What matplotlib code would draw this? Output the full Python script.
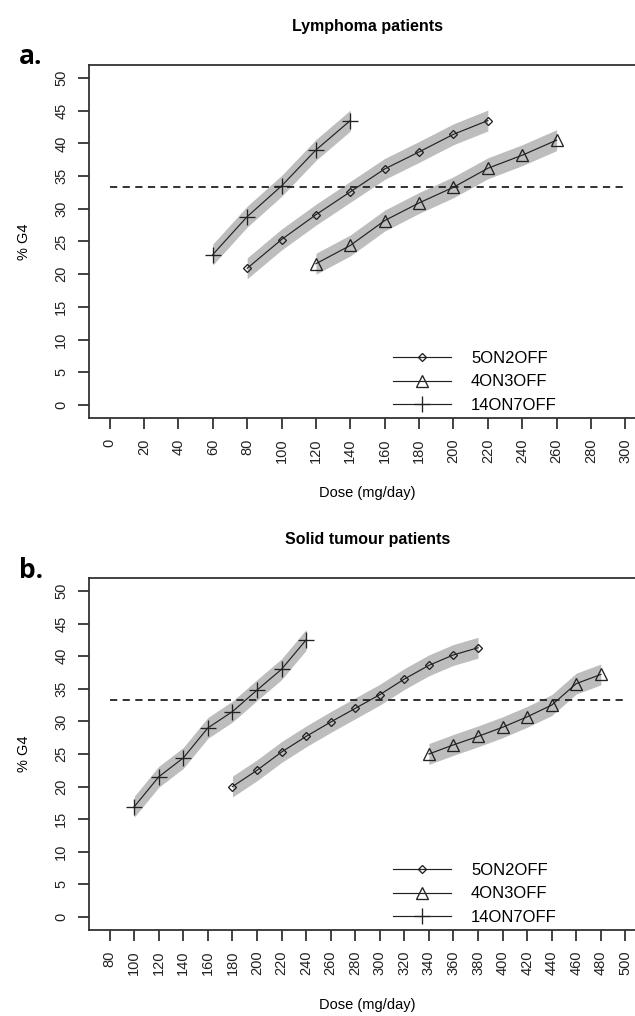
import matplotlib
matplotlib.use("Agg")
import matplotlib.pyplot as plt
import numpy as np

plt.rcParams['font.family'] = ['Liberation Sans', 'DejaVu Sans']

# ---- Data: Lymphoma patients ----
a_x_14on7off = [60, 80, 100, 120, 140]
a_y_14on7off = [23.0, 28.8, 33.5, 39.0, 43.5]
a_x_5on2off = [80, 100, 120, 140, 160, 180, 200, 220]
a_y_5on2off = [20.9, 25.3, 29.1, 32.6, 36.1, 38.7, 41.4, 43.5]
a_x_4on3off = [120, 140, 160, 180, 200, 220, 240, 260]
a_y_4on3off = [21.6, 24.4, 28.2, 30.9, 33.3, 36.2, 38.2, 40.5]
a_xticks = list(range(0, 301, 20))

# ---- Data: Solid tumour patients ----
b_x_14on7off = [100, 120, 140, 160, 180, 200, 220, 240]
b_y_14on7off = [16.9, 21.5, 24.4, 29.0, 31.5, 34.8, 38.0, 42.5]
b_x_5on2off = [180, 200, 220, 240, 260, 280, 300, 320, 340, 360, 380]
b_y_5on2off = [20.0, 22.5, 25.3, 27.7, 29.9, 32.0, 34.1, 36.5, 38.6, 40.2, 41.3]
b_x_4on3off = [340, 360, 380, 400, 420, 440, 460, 480]
b_y_4on3off = [25.0, 26.4, 27.7, 29.1, 30.7, 32.5, 35.8, 37.2]
b_xticks = list(range(80, 501, 20))

yticks = list(range(0, 51, 5))
threshold = 33.3
band_halfwidth = 1.6

labels = ["5ON2OFF", "4ON3OFF", "14ON7OFF"]
markers = ["D", "^", "+"]
msizes = [4.5, 8.5, 11]

W, H = 635, 1016
fig = plt.figure(figsize=(W / 100, H / 100), dpi=100)

def rect_px(left, top, right, bottom):
    return [left / W, 1 - bottom / H, (right - left) / W, (bottom - top) / H]

def panel(rect, title, letter, letter_y, series, xticks):
    ax = fig.add_axes(rect)
    handles = []
    for (x, y) in series:
        x = np.array(x); y = np.array(y)
        ax.fill_between(x, y - band_halfwidth, y + band_halfwidth,
                        color='#bdbdbd', lw=0, zorder=1)
    for (x, y), lab, m, ms in zip(series, labels, markers, msizes):
        h, = ax.plot(x, y, color='#222222', lw=0.85, marker=m, ms=ms,
                     mfc='none', mec='#222222', mew=0.95, label=lab, zorder=3)
        handles.append(h)
    ax.plot([xticks[0], xticks[-1]], [threshold, threshold], ls=(0, (4, 3)),
            color='#222222', lw=1.3, zorder=2)
    rng = xticks[-1] - xticks[0]
    ax.set_xlim(xticks[0] - 0.04 * rng, xticks[-1] + 0.04 * rng)
    ax.set_ylim(-2, 52)
    ax.set_xticks(xticks)
    ax.set_xticklabels([str(t) for t in xticks], fontsize=10.5)
    ax.set_yticks(yticks)
    ax.set_yticklabels([str(t) for t in yticks], fontsize=10.5, rotation=90,
                       va='center')
    ax.tick_params(axis='x', labelrotation=90, length=8, width=1.2, pad=7,
                   colors='#222222')
    ax.tick_params(axis='y', length=8, width=1.2, pad=7, colors='#222222')
    for s in ax.spines.values():
        s.set_linewidth(1.3)
        s.set_color('#333333')
    ax.set_xlabel("Dose (mg/day)", fontsize=10.5, labelpad=16)
    ax.set_ylabel("% G4", fontsize=10.5, labelpad=17)
    ax.set_title(title, fontsize=11.5, fontweight='bold', pad=24.5)
    ax.legend(handles=handles, loc='lower left',
              bbox_to_anchor=(0.545, 0.015), frameon=False, fontsize=12,
              handlelength=3.5, handletextpad=1.2, labelspacing=0.5,
              borderaxespad=0, borderpad=0)
    fig.text(0.03, 1 - letter_y / H, letter, fontsize=19,
             fontweight='bold', family=['Open Sans', 'DejaVu Sans'],
             va='center', ha='left')
    return ax

panel(rect_px(89, 65, 646, 418), "Lymphoma patients", "a.", 57,
      [(a_x_5on2off, a_y_5on2off), (a_x_4on3off, a_y_4on3off),
       (a_x_14on7off, a_y_14on7off)], a_xticks)
panel(rect_px(89, 578, 646, 930), "Solid tumour patients", "b.", 571,
      [(b_x_5on2off, b_y_5on2off), (b_x_4on3off, b_y_4on3off),
       (b_x_14on7off, b_y_14on7off)], b_xticks)

fig.savefig("out.png", dpi=100)
